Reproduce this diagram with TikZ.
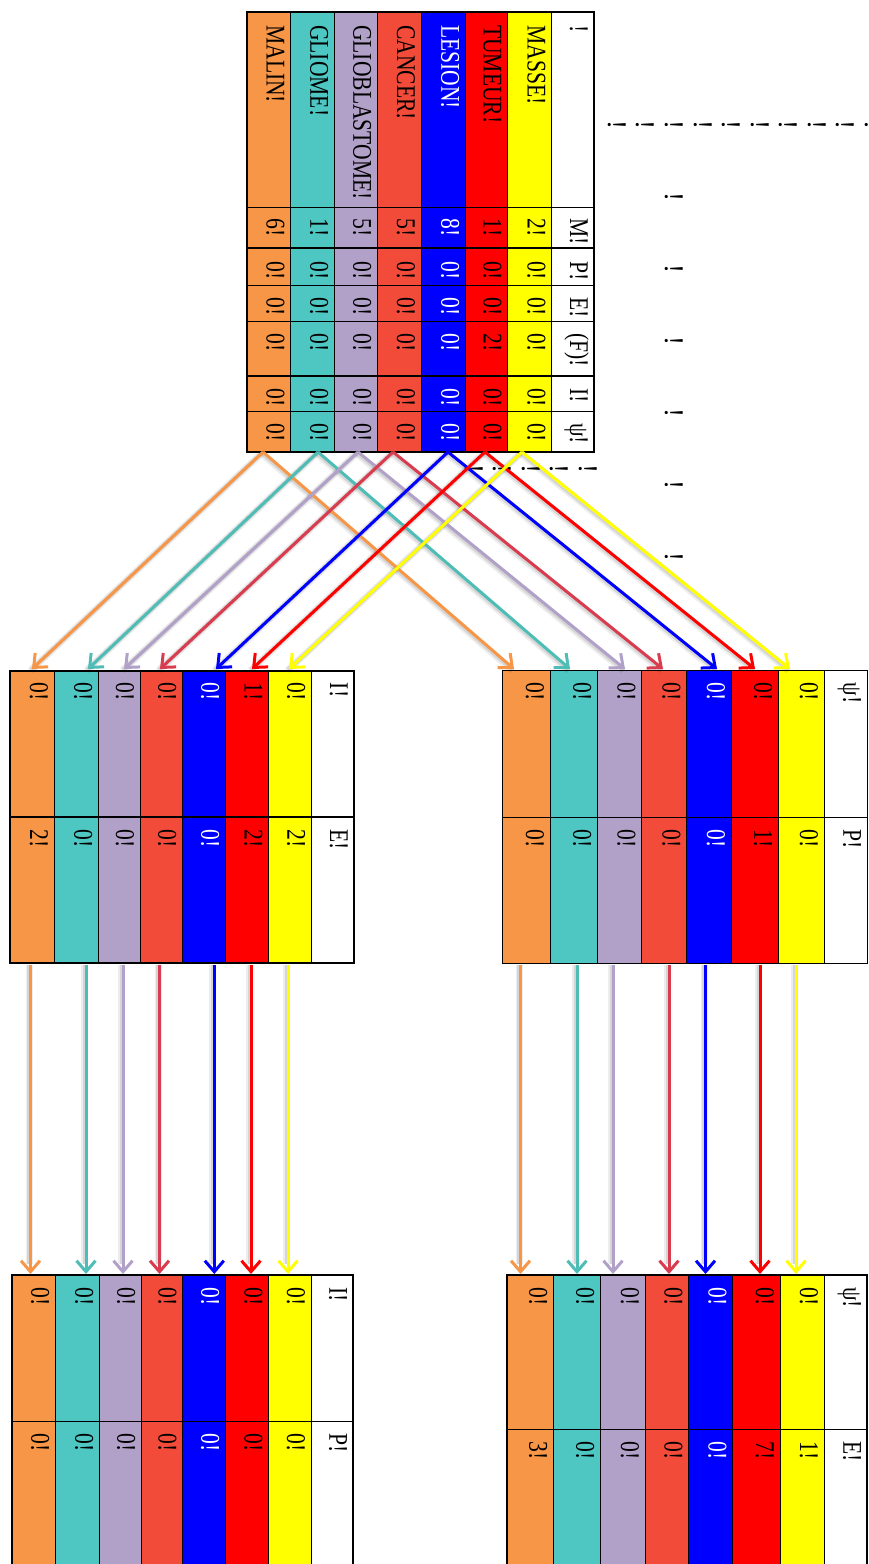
\documentclass[tikz,border=0pt]{standalone}
\usepackage{graphicx}
\usepackage{fontspec}
\setmainfont{Liberation Serif}
\usetikzlibrary{arrows.meta}
\definecolor{cOr}{HTML}{F79646}
\definecolor{cTe}{HTML}{4EC6C2}
\definecolor{cLa}{HTML}{B1A0C7}
\definecolor{cCo}{HTML}{F24B39}
\definecolor{cBl}{HTML}{0000FF}
\definecolor{cRe}{HTML}{FF0000}
\definecolor{cYe}{HTML}{FFFF00}
\definecolor{aOr}{HTML}{F79646}
\definecolor{aTe}{HTML}{4DBDB6}
\definecolor{aLa}{HTML}{B1A0C7}
\definecolor{aCo}{HTML}{D83C4E}
\definecolor{aBl}{HTML}{0000FF}
\definecolor{aRe}{HTML}{FF0000}
\definecolor{aYe}{HTML}{FFFF00}
\newcommand{\T}[1]{\scalebox{0.8}[1]{#1}}
\newcommand{\fs}{\fontsize{27}{31}\selectfont}
% #1 prefix, #2 list, #3 y0, #4 y1, #5 y2, #6 xleft, #7 xright, #8 outer lw, #9 mid lw
\newcommand{\subtab}[9]{%
  \foreach \xl/\xr/\c/\tc/\va/\vb [count=\k] in {#2}{
    \fill[\c] (\xl,#3) rectangle (\xr,#5);
    \draw[line width=1pt] (\xl,#3) -- (\xl,#5);
    \node[cell,text=\tc] (#1a\k) at (\xr-24,#3+12) {\T{\va}};
    \node[cell,text=\tc] (#1b\k) at (\xr-24,#4+12) {\T{\vb}};
  }
  \draw[line width=#9] (#6,#4) -- (#7,#4);
  \draw[line width=#8] (#6,#3) rectangle (#7,#5);
}
\begin{document}
\begin{tikzpicture}[x=1pt,y=-1pt,
  cell/.style={rotate=-90,anchor=base west,inner sep=0pt,font=\fs},
  bang/.style={rotate=-90,anchor=base,inner sep=0pt,font=\fs},
  arr/.style={line width=3pt,-{Straight Barb[length=11pt,width=19pt]}},
  shad/.style={line width=7pt,draw=black,opacity=0.07},
  shadb/.style={line width=4.5pt,draw=black,opacity=0.10}]
\useasboundingbox (0,0) rectangle (868,1564);
\clip (0,0) rectangle (868,1564);

% main table
\foreach \xl/\xr/\c/\tc/\w/\m/\p/\e/\f/\i/\s [count=\k] in {
 247/290.7/cOr/black/MALIN!/6!/0!/0!/0!/0!/0!,
 290.7/334.3/cTe/black/GLIOME!/1!/0!/0!/0!/0!/0!,
 334.3/377.3/cLa/black/GLIOBLASTOME!/5!/0!/0!/0!/0!/0!,
 377.3/421/cCo/black/CANCER!/5!/0!/0!/0!/0!/0!,
 421/465.3/cBl/white/LESION!/8!/0!/0!/0!/0!/0!,
 465.3/507.7/cRe/black/TUMEUR!/1!/0!/0!/2!/0!/0!,
 507.7/551.7/cYe/black/MASSE!/2!/0!/0!/0!/0!/0!,
 551.7/594/white/black/!/M!/P!/E!/{(F)!}/I!/ψ!}{
  \fill[\c] (\xl,12) rectangle (\xr,451.7);
  \draw[line width=1pt] (\xl,12) -- (\xl,451.7);
  \node[cell,text=\tc] (mw\k) at (\xr-24,25) {\T{\w}};
  \node[cell,text=\tc] (mm\k) at (\xr-24,218) {\T{\m}};
  \node[cell,text=\tc] (mp\k) at (\xr-24,261) {\T{\p}};
  \node[cell,text=\tc] (me\k) at (\xr-24,297) {\T{\e}};
  \node[cell,text=\tc] (mf\k) at (\xr-24,333) {\T{\f}};
  \node[cell,text=\tc] (mi\k) at (\xr-24,388) {\T{\i}};
  \node[cell,text=\tc] (ms\k) at (\xr-24,423) {\T{\s}};
}
\foreach \yy in {207,285.7,321.7,411.7}{\draw[line width=1pt] (247,\yy) -- (594,\yy);}
\foreach \yy in {248.3,376}{\draw[line width=2pt] (247,\yy) -- (594,\yy);}
\draw[line width=2pt] (247,12) rectangle (594,451.7);

% sub tables
\subtab{ie}{10/54/cOr/black/0!/2!, 54/98.3/cTe/black/0!/0!, 98.3/140/cLa/black/0!/0!,
 140/182.3/cCo/black/0!/0!, 182.3/225.3/cBl/white/0!/0!, 225.3/268.7/cRe/black/1!/2!,
 268.7/311.3/cYe/black/0!/2!, 311.3/354/white/black/I!/E!}{670.7}{817.3}{963.3}{10}{354}{2pt}{2pt}
\subtab{sp}{502.7/550/cOr/black/0!/0!, 550/597.3/cTe/black/0!/0!, 597.3/641.7/cLa/black/0!/0!,
 641.7/686.7/cCo/black/0!/0!, 686.7/731/cBl/white/0!/0!, 731/778.3/cRe/black/0!/1!,
 778.3/824/cYe/black/0!/0!, 824/867.3/white/black/ψ!/P!}{670.7}{817.3}{963.3}{502.7}{867.3}{1.5pt}{1.2pt}
\subtab{ip}{11.7/55.3/cOr/black/0!/0!, 55.3/99.3/cTe/black/0!/0!, 99.3/141.3/cLa/black/0!/0!,
 141.3/182.7/cCo/black/0!/0!, 182.7/225.3/cBl/white/0!/0!, 225.3/268.7/cRe/black/0!/0!,
 268.7/311/cYe/black/0!/0!, 311/353.3/white/black/I!/P!}{1275}{1421.7}{1600}{11.7}{353.3}{2pt}{1.2pt}
\subtab{se}{507.3/553.3/cOr/black/0!/3!, 553.3/600.3/cTe/black/0!/0!, 600.3/645/cLa/black/0!/0!,
 645/688.7/cCo/black/0!/0!, 688.7/732.7/cBl/white/0!/0!, 732.7/780/cRe/black/0!/7!,
 780/824/cYe/black/0!/1!, 824/867.3/white/black/ψ!/E!}{1275}{1429.3}{1600}{507.3}{867.3}{2pt}{1.2pt}

% stray marks
\foreach \xx [count=\k] in {608.3,636.7,665,694,722.7,751,779.3,808.3,836.7,865}
  {\node[bang] (ba\k) at (\xx,125) {!};}
\foreach \yy [count=\k] in {197.3,269.3,341.3,413.3,485.3,557.3}
  {\node[bang] (bb\k) at (665,\yy) {!};}
\foreach \xx [count=\k] in {465,493.5,522,550.5,579}
  {\node[bang] (bc\k) at (\xx,469.3) {!};}

% arrows
\foreach \n/\ac/\sx/\lx/\rx/\vl/\vr in {
 or/aOr/263/32/514/30.5/520.5,
 te/aTe/318/88/570/86/577,
 la/aLa/358/124/625/123/613,
 co/aCo/393/160/663/159.5/669,
 bl/aBl/448/216/717/214.3/705.5,
 re/aRe/485/252/755/251/760,
 ye/aYe/522/289/790/288/796}{
  \coordinate (s\n) at (\sx,452);
  \coordinate (l\n) at (\lx,669);
  \coordinate (r\n) at (\rx,669);
  \coordinate (vla\n) at (\vl,965);
  \coordinate (vlb\n) at (\vl,1274);
  \coordinate (vra\n) at (\vr,965);
  \coordinate (vrb\n) at (\vr,1274);
  \draw[shad] ([shift={(-1.5,1.5)}]s\n) -- ([shift={(-1.5,1.5)}]l\n);
  \draw[shad] ([shift={(-1.5,1.5)}]s\n) -- ([shift={(-1.5,1.5)}]r\n);
  \draw[shad] ([shift={(-1.5,0)}]vla\n) -- ([shift={(-1.5,-10)}]vlb\n);
  \draw[shad] ([shift={(-1.5,0)}]vra\n) -- ([shift={(-1.5,-10)}]vrb\n);
  \draw[shadb] ([shift={(-1,1)}]s\n) -- ([shift={(-1,1)}]l\n);
  \draw[shadb] ([shift={(-1,1)}]s\n) -- ([shift={(-1,1)}]r\n);
  \draw[shadb] ([shift={(-1,0)}]vla\n) -- ([shift={(-1,-10)}]vlb\n);
  \draw[shadb] ([shift={(-1,0)}]vra\n) -- ([shift={(-1,-10)}]vrb\n);
}
\foreach \n/\ac in {or/aOr,te/aTe,la/aLa,co/aCo,bl/aBl,re/aRe,ye/aYe}{
  \draw[arr,\ac] (s\n) -- (l\n);
  \draw[arr,\ac] (s\n) -- (r\n);
  \draw[arr,\ac] (vla\n) -- (vlb\n);
  \draw[arr,\ac] (vra\n) -- (vrb\n);
}
\end{tikzpicture}
\end{document}
